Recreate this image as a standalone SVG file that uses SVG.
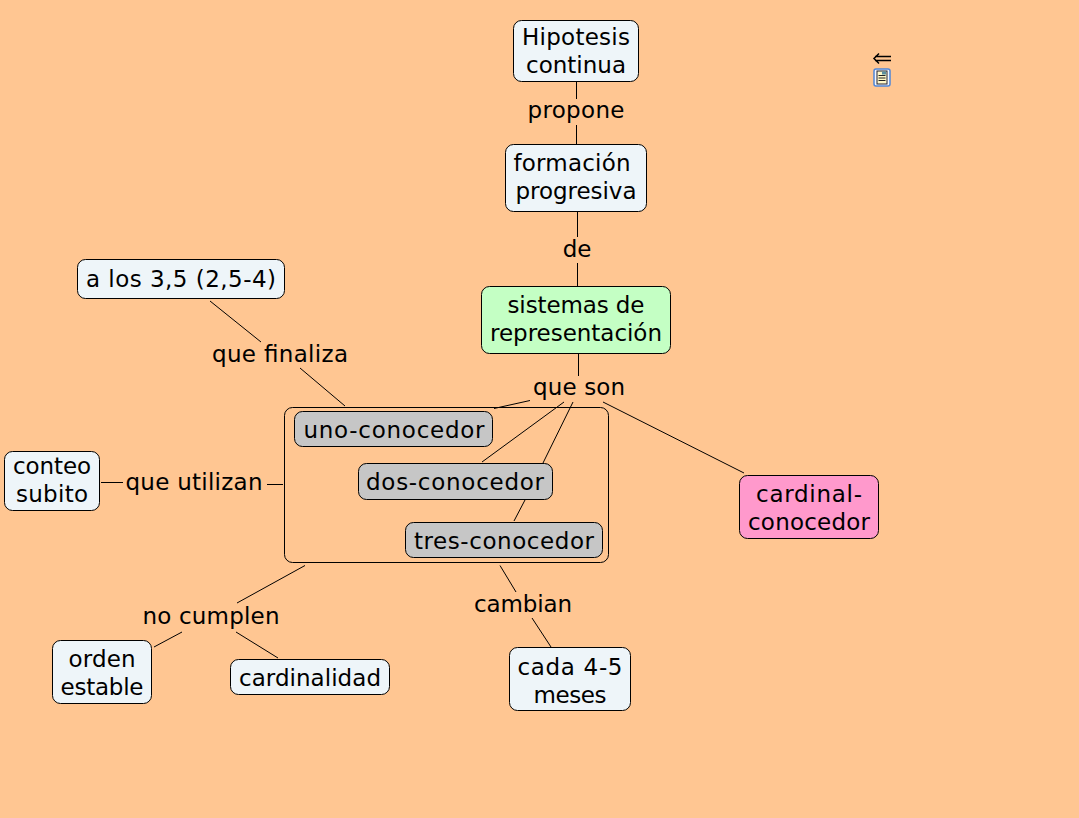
<svg xmlns="http://www.w3.org/2000/svg" width="1079" height="818" viewBox="0 0 1079 818">
<style>
text{font-family:"DejaVu Sans",sans-serif;font-size:23px;fill:#000;text-anchor:middle}
.n{stroke:#000;stroke-width:1}
.w{fill:#eef5f9}
.g{fill:#c6c6c6}
#connectors line{stroke:#000;stroke-width:1}
</style>
<rect width="1079" height="818" fill="#ffc692"/>
<g id="connectors">
<line x1="576.500" y1="82" x2="576.500" y2="99"/><line x1="576.500" y1="125" x2="576.500" y2="144"/>
<line x1="577.500" y1="212" x2="577.500" y2="237"/><line x1="577.500" y1="263" x2="577.500" y2="286"/>
<line x1="578.500" y1="354" x2="578.500" y2="376"/>
<line x1="210" y1="301" x2="261" y2="342"/><line x1="300" y1="368" x2="345" y2="406"/>
<line x1="530" y1="400.500" x2="494" y2="408.500"/>
<line x1="564" y1="402" x2="482" y2="462"/><line x1="573" y1="402" x2="543" y2="463"/>
<line x1="525" y1="500" x2="514" y2="521"/>
<line x1="603" y1="402" x2="744" y2="473"/>
<line x1="101" y1="482.500" x2="123" y2="482.500"/><line x1="267" y1="484.500" x2="283" y2="484.500"/>
<line x1="305" y1="565.500" x2="237" y2="603"/>
<line x1="182" y1="632" x2="154" y2="647"/><line x1="236" y1="632" x2="278" y2="658"/>
<line x1="500" y1="565.500" x2="516" y2="592"/><line x1="532" y1="618" x2="551" y2="647"/>
</g>
<g id="linking-labels">
<text x="576" y="118" textLength="97">propone</text>
<text x="577" y="257">de</text>
<text x="280" y="362" textLength="136">que finaliza</text>
<text x="579" y="395" textLength="92">que son</text>
<text x="194" y="490" textLength="137">que utilizan</text>
<text x="211" y="624" textLength="137">no cumplen</text>
<text x="523" y="612" textLength="98">cambian</text>
</g>
<g id="group-box"><rect class="n" x="284.500" y="407.500" width="324" height="155" rx="8" fill="none"/></g>
<g id="hipotesis"><rect class="n w" x="513.500" y="20.500" width="125" height="61" rx="8"/><text x="576" y="45" textLength="108">Hipotesis</text><text x="576" y="73" textLength="100">continua</text></g>
<g id="formacion"><rect class="n w" x="505.500" y="144.500" width="141" height="67" rx="8"/><text x="572" y="171" textLength="117">formación</text><text x="576" y="199" textLength="121">progresiva</text></g>
<g id="sistemas"><rect class="n" fill="#c4ffc4" x="481.500" y="286.500" width="189" height="67" rx="8"/><text x="576" y="313" textLength="137">sistemas de</text><text x="576" y="341" textLength="172">representación</text></g>
<g id="a-los"><rect class="n w" x="77.500" y="259.500" width="207" height="39" rx="8"/><text x="181" y="287" textLength="190">a los 3,5 (2,5-4)</text></g>
<g id="uno"><rect class="n g" x="294.500" y="411.500" width="198" height="35" rx="8"/><text x="394" y="438" textLength="181">uno-conocedor</text></g>
<g id="dos"><rect class="n g" x="358.500" y="463.500" width="194" height="36" rx="8"/><text x="455" y="490" textLength="178">dos-conocedor</text></g>
<g id="tres"><rect class="n g" x="405.500" y="522.500" width="197" height="35" rx="8"/><text x="504" y="549" textLength="180">tres-conocedor</text></g>
<g id="cardinal-conocedor"><rect class="n" fill="#ff99cc" x="739.500" y="475.500" width="139" height="63" rx="8"/><text x="809" y="502" textLength="106">cardinal-</text><text x="809" y="530" textLength="122">conocedor</text></g>
<g id="conteo"><rect class="n w" x="4.500" y="451.500" width="95" height="59" rx="8"/><text x="52" y="474" textLength="78">conteo</text><text x="52" y="502" textLength="72">subito</text></g>
<g id="orden"><rect class="n w" x="52.500" y="640.500" width="99" height="63" rx="8"/><text x="102" y="667" textLength="67">orden</text><text x="102" y="695" textLength="83">estable</text></g>
<g id="cardinalidad"><rect class="n w" x="230.500" y="659.500" width="159" height="35" rx="8"/><text x="310" y="686" textLength="142">cardinalidad</text></g>
<g id="cada"><rect class="n w" x="509.500" y="647.500" width="121" height="63" rx="8"/><text x="570" y="675" textLength="105">cada 4-5</text><text x="570" y="703" textLength="73">meses</text></g>
<g id="icon">
<path d="M879 53.500 L874 58.500 L879 63.500 M875 56.500 H891 M875 60.500 H891" fill="none" stroke="#000" stroke-width="1.500"/>
<rect x="874" y="69" width="16" height="17" rx="2" fill="#f2f6fc" stroke="#4f86d8" stroke-width="1.500"/>
<rect x="877" y="71" width="10" height="13" fill="#fff8c8" stroke="#223" stroke-width="1"/>
<path d="M878.500 75.500 H885.500 M878.500 78 H885.500 M878.500 80.500 H885.500" stroke="#222" stroke-width="1" fill="none"/>
<rect x="882" y="71.500" width="4" height="3" fill="#5a8fa0"/>
</g>
</svg>
